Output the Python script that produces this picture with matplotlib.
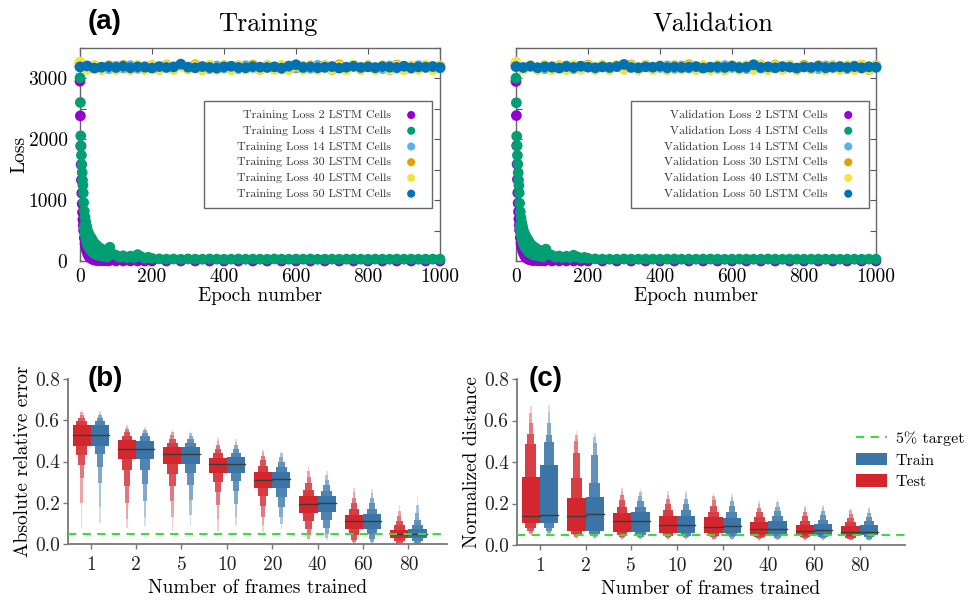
import numpy as np
import matplotlib
matplotlib.use("Agg")
import matplotlib.pyplot as plt
from matplotlib.lines import Line2D
from matplotlib.patches import Patch
import matplotlib.colors as mcolors

plt.rcParams['font.family'] = ['cmr10', 'DejaVu Serif']
plt.rcParams['axes.unicode_minus'] = False
plt.rcParams['mathtext.fontset'] = 'cm'
plt.rcParams['xtick.labelsize'] = 14
plt.rcParams['ytick.labelsize'] = 14

# ---------------- panel (a) data ----------------
cells = [2, 4, 14, 30, 40, 50]
cell_colors = ['#9400d3', '#009e73', '#56b4e9', '#e69f00', '#f0e442', '#0072b2']

plateau_epochs = list(range(0, 1001, 20))

tr_ep_2 = [0, 1, 2, 3, 4, 5, 6, 7, 8, 9, 10, 12, 14, 16, 18, 20, 23, 26, 30, 35, 40, 45, 50, 60, 70, 80,
           100, 120, 140, 160, 180, 200, 240, 280, 320, 360, 400, 440, 480, 520, 560, 600, 640, 680,
           720, 760, 800, 840, 880, 920, 960, 1000]
tr_loss_2 = [2955, 2385, 1890, 1585, 1330, 1115, 940, 800, 680, 585, 500, 380, 290, 225, 175, 135, 95, 65,
             42, 26, 16, 10, 7, 4, 3, 2, 1, 1, 1, 0, 0, 0, 0, 0, 0, 0, 0, 0, 0, 0, 0, 0, 0, 0, 0, 0, 0, 0,
             0, 0, 0, 0]
tr_ep_4 = [0, 1, 2, 3, 4, 5, 6, 7, 8, 9, 10, 11, 12, 13, 14, 15, 16, 17, 18, 19, 20,
           22, 24, 26, 28, 30, 32, 34, 36, 38, 40, 43, 46, 50, 54, 58, 62, 66, 70, 75, 83, 90,
           100, 110, 120, 130, 140, 150, 160, 170, 180, 190, 200,
           220, 240, 260, 280, 300, 320, 340, 360, 380, 400, 420, 440, 460, 480, 500, 520, 540, 560,
           580, 600, 620, 640, 660, 680, 700, 720, 740, 760, 780, 800, 820, 840, 860, 880, 900, 920,
           940, 960, 980, 1000]
tr_loss_4 = [3010, 2605, 2056, 1890, 1738, 1586, 1454, 1327, 1245, 1118, 960, 560, 820, 480, 720, 410, 640,
             350, 580, 300, 520, 250, 460, 210, 410, 180, 370, 150, 330, 130, 290, 110, 260, 95, 220, 85,
             190, 75, 160, 65, 225, 120, 95, 60, 85, 55, 80, 50, 105, 70, 45, 60, 42,
             35, 30, 32, 28, 34, 30, 29, 33, 31, 28, 30, 32, 29, 31, 30, 28, 33, 30, 29, 31, 30, 32, 28,
             30, 31, 29, 30, 32, 30, 28, 31, 30, 29, 32, 30, 31, 29, 30, 31, 30]
tr_loss_14 = [3195, 3165, 3205, 3175, 3160, 3200, 3170, 3210, 3165, 3195,
              3205, 3160, 3195, 3170, 3215, 3165, 3200, 3180, 3160, 3205,
              3170, 3195, 3160, 3210, 3180, 3165, 3200, 3185, 3160, 3205,
              3170, 3195, 3165, 3215, 3180, 3160, 3200, 3170, 3205, 3165,
              3195, 3180, 3160, 3205, 3170, 3200, 3165, 3210, 3180, 3195, 3170]
tr_loss_30 = [3250, 3155, 3205, 3150, 3210, 3160, 3215, 3150, 3200, 3160,
              3210, 3150, 3220, 3155, 3205, 3160, 3225, 3145, 3200, 3155,
              3210, 3150, 3205, 3160, 3220, 3145, 3210, 3155, 3200, 3150,
              3220, 3155, 3205, 3160, 3210, 3145, 3225, 3155, 3200, 3150,
              3210, 3160, 3205, 3145, 3220, 3155, 3200, 3160, 3210, 3150, 3205]
tr_loss_40 = [3270, 3150, 3210, 3150, 3205, 3145, 3205, 3150, 3215, 3145,
              3205, 3150, 3210, 3145, 3210, 3150, 3205, 3145, 3220, 3150,
              3205, 3140, 3210, 3150, 3205, 3145, 3205, 3150, 3215, 3145,
              3205, 3150, 3210, 3145, 3205, 3150, 3205, 3140, 3220, 3150,
              3205, 3145, 3210, 3150, 3205, 3140, 3205, 3150, 3215, 3145, 3205]
tr_loss_50 = [3190, 3205, 3170, 3185, 3195, 3180, 3200, 3175, 3190, 3185,
              3170, 3195, 3180, 3190, 3235, 3185, 3175, 3195, 3180, 3170,
              3190, 3200, 3180, 3175, 3195, 3185, 3180, 3190, 3170, 3200,
              3225, 3180, 3190, 3175, 3185, 3195, 3170, 3185, 3200, 3180,
              3190, 3175, 3195, 3185, 3180, 3200, 3175, 3190, 3185, 3195, 3180]

va_ep_2 = tr_ep_2
va_loss_2 = [2950, 2390, 1895, 1590, 1340, 1120, 950, 810, 690, 590, 505, 385, 295, 230, 178, 138, 97, 66,
             43, 27, 17, 11, 7, 4, 3, 2, 1, 1, 1, 0, 0, 0, 0, 0, 0, 0, 0, 0, 0, 0, 0, 0, 0, 0, 0, 0, 0, 0,
             0, 0, 0, 0]
va_ep_4 = tr_ep_4
va_loss_4 = [3005, 2600, 2050, 1895, 1735, 1590, 1450, 1330, 1240, 1120, 950, 570, 810, 490, 710, 420, 630,
             360, 570, 310, 510, 260, 450, 220, 400, 185, 360, 155, 320, 135, 280, 115, 250, 98, 215, 88,
             185, 78, 155, 68, 195, 115, 92, 62, 82, 56, 78, 52, 95, 68, 47, 58, 44,
             34, 31, 30, 29, 33, 31, 30, 32, 30, 29, 31, 33, 30, 30, 29, 31, 32, 30, 28, 30, 31, 31, 29,
             30, 32, 30, 29, 31, 30, 29, 30, 31, 30, 31, 29, 30, 30, 29, 31, 30]
va_loss_14 = [3205, 3170, 3210, 3175, 3160, 3195, 3180, 3205, 3160, 3200,
              3210, 3165, 3190, 3180, 3205, 3160, 3200, 3170, 3215, 3165,
              3180, 3205, 3165, 3205, 3170, 3160, 3200, 3180, 3165, 3210,
              3180, 3190, 3160, 3205, 3170, 3165, 3200, 3180, 3215, 3160,
              3190, 3170, 3160, 3205, 3180, 3200, 3160, 3205, 3170, 3190, 3180]
va_loss_30 = [3245, 3160, 3205, 3155, 3210, 3155, 3210, 3150, 3205, 3160,
              3220, 3150, 3210, 3160, 3200, 3155, 3220, 3150, 3205, 3160,
              3205, 3145, 3210, 3160, 3225, 3150, 3205, 3155, 3205, 3145,
              3210, 3160, 3200, 3155, 3220, 3150, 3220, 3155, 3205, 3145,
              3220, 3160, 3210, 3150, 3210, 3160, 3205, 3155, 3220, 3145, 3210]
va_loss_40 = [3265, 3150, 3210, 3145, 3215, 3145, 3205, 3150, 3215, 3150,
              3205, 3150, 3210, 3145, 3215, 3150, 3205, 3150, 3215, 3145,
              3205, 3145, 3210, 3150, 3205, 3150, 3210, 3145, 3215, 3150,
              3205, 3145, 3210, 3150, 3215, 3145, 3205, 3150, 3215, 3145,
              3205, 3150, 3210, 3145, 3205, 3145, 3210, 3150, 3215, 3150, 3205]
va_loss_50 = [3195, 3180, 3200, 3175, 3190, 3185, 3170, 3195, 3180, 3200,
              3185, 3175, 3190, 3180, 3195, 3230, 3180, 3175, 3190, 3185,
              3200, 3175, 3190, 3180, 3185, 3195, 3170, 3185, 3190, 3180,
              3200, 3175, 3185, 3225, 3180, 3190, 3175, 3195, 3185, 3170,
              3190, 3180, 3200, 3175, 3185, 3190, 3180, 3195, 3175, 3190, 3185]

# ---------------- panels (b), (c) data (letter-value boxes) ----------------
frames = ['1', '2', '5', '10', '20', '40', '60', '80']

# each row: one category; columns: levels 1..6 (inner -> outer)
b_test_med = [0.530, 0.463, 0.435, 0.388, 0.312, 0.196, 0.110, 0.050]
b_test_lo = [[0.475, 0.432, 0.385, 0.320, 0.200, 0.080],
             [0.414, 0.358, 0.282, 0.200, 0.120, 0.078],
             [0.388, 0.338, 0.280, 0.210, 0.130, 0.065],
             [0.345, 0.300, 0.250, 0.190, 0.120, 0.065],
             [0.270, 0.231, 0.182, 0.133, 0.090, 0.060],
             [0.152, 0.111, 0.075, 0.043, 0.025, 0.018],
             [0.072, 0.044, 0.020, 0.008, 0.003, 0.001],
             [0.030, 0.015, 0.006, 0.002, 0.001, 0.000]]
b_test_hi = [[0.575, 0.595, 0.610, 0.625, 0.638, 0.650],
             [0.505, 0.526, 0.545, 0.558, 0.568, 0.575],
             [0.469, 0.490, 0.510, 0.528, 0.542, 0.555],
             [0.418, 0.440, 0.460, 0.478, 0.498, 0.515],
             [0.347, 0.376, 0.405, 0.425, 0.445, 0.456],
             [0.233, 0.262, 0.295, 0.325, 0.355, 0.380],
             [0.141, 0.170, 0.200, 0.225, 0.250, 0.272],
             [0.070, 0.092, 0.112, 0.135, 0.160, 0.190]]
b_train_med = [0.528, 0.462, 0.434, 0.390, 0.314, 0.197, 0.112, 0.048]
b_train_lo = [[0.474, 0.435, 0.375, 0.296, 0.180, 0.100],
              [0.410, 0.360, 0.290, 0.210, 0.130, 0.085],
              [0.390, 0.342, 0.285, 0.215, 0.140, 0.085],
              [0.342, 0.305, 0.255, 0.195, 0.130, 0.085],
              [0.272, 0.228, 0.180, 0.130, 0.095, 0.075],
              [0.155, 0.118, 0.080, 0.048, 0.030, 0.020],
              [0.075, 0.048, 0.025, 0.012, 0.005, 0.002],
              [0.028, 0.014, 0.006, 0.002, 0.001, 0.000]]
b_train_hi = [[0.577, 0.597, 0.612, 0.625, 0.636, 0.645],
              [0.500, 0.522, 0.540, 0.552, 0.560, 0.565],
              [0.471, 0.492, 0.510, 0.525, 0.538, 0.548],
              [0.422, 0.442, 0.462, 0.478, 0.495, 0.510],
              [0.350, 0.375, 0.400, 0.420, 0.440, 0.452],
              [0.232, 0.258, 0.285, 0.310, 0.335, 0.355],
              [0.146, 0.172, 0.200, 0.225, 0.248, 0.268],
              [0.072, 0.094, 0.118, 0.148, 0.190, 0.230]]

c_test_med = [0.141, 0.140, 0.118, 0.095, 0.088, 0.076, 0.069, 0.064]
c_test_lo = [[0.104, 0.080, 0.066, 0.058, 0.054, 0.050],
             [0.069, 0.055, 0.046, 0.040, 0.035, 0.030],
             [0.062, 0.048, 0.040, 0.034, 0.029, 0.025],
             [0.058, 0.045, 0.038, 0.032, 0.028, 0.024],
             [0.056, 0.044, 0.037, 0.031, 0.027, 0.023],
             [0.050, 0.040, 0.034, 0.029, 0.025, 0.021],
             [0.047, 0.038, 0.032, 0.027, 0.023, 0.020],
             [0.045, 0.036, 0.030, 0.026, 0.022, 0.019]]
c_test_hi = [[0.329, 0.487, 0.535, 0.590, 0.635, 0.672],
             [0.226, 0.321, 0.445, 0.500, 0.530, 0.550],
             [0.155, 0.185, 0.215, 0.240, 0.260, 0.275],
             [0.140, 0.168, 0.198, 0.222, 0.242, 0.258],
             [0.135, 0.160, 0.190, 0.215, 0.238, 0.252],
             [0.112, 0.135, 0.158, 0.180, 0.198, 0.212],
             [0.098, 0.118, 0.138, 0.158, 0.176, 0.190],
             [0.092, 0.110, 0.130, 0.150, 0.168, 0.180]]
c_train_med = [0.145, 0.147, 0.118, 0.097, 0.090, 0.078, 0.070, 0.065]
c_train_lo = [[0.104, 0.080, 0.066, 0.058, 0.054, 0.050],
              [0.069, 0.055, 0.046, 0.040, 0.035, 0.030],
              [0.062, 0.048, 0.040, 0.034, 0.029, 0.025],
              [0.058, 0.045, 0.038, 0.032, 0.028, 0.024],
              [0.056, 0.044, 0.037, 0.031, 0.027, 0.023],
              [0.052, 0.041, 0.035, 0.030, 0.026, 0.022],
              [0.048, 0.039, 0.033, 0.028, 0.024, 0.021],
              [0.046, 0.037, 0.031, 0.026, 0.023, 0.020]]
c_train_hi = [[0.384, 0.494, 0.530, 0.590, 0.640, 0.675],
              [0.230, 0.297, 0.434, 0.490, 0.520, 0.540],
              [0.158, 0.185, 0.210, 0.235, 0.255, 0.270],
              [0.142, 0.170, 0.198, 0.222, 0.245, 0.260],
              [0.132, 0.160, 0.188, 0.212, 0.232, 0.245],
              [0.115, 0.138, 0.162, 0.185, 0.205, 0.220],
              [0.100, 0.122, 0.145, 0.165, 0.182, 0.195],
              [0.095, 0.115, 0.135, 0.155, 0.172, 0.185]]

target = 0.05
level_widths = [1.0, 0.58, 0.36, 0.22, 0.14, 0.09]
level_shades = [1.0, 0.9, 0.8, 0.62, 0.42, 0.22]
test_color = '#d3272d'
train_color = '#3b75a8'
green = '#3ddc3d'

fig = plt.figure(figsize=(9.68, 6.0), dpi=100)
W, H = 968.0, 600.0


def px_axes(l, t, r, b):
    return fig.add_axes([l / W, 1 - b / H, (r - l) / W, (b - t) / H])


def loss_panel(ax, prefix, series, leg_right):
    for (ep, vals), n, col in zip(series, cells, cell_colors):
        ax.scatter(ep, vals, s=60, color=col, edgecolors='none', clip_on=False,
                   label='      ' + f'{prefix} Loss {n} LSTM Cells', zorder=3)
    ax.set_xlim(0, 1000)
    ax.set_ylim(0, 3500)
    ax.set_xticks(range(0, 1001, 200))
    ax.set_yticks([0, 1000, 2000, 3000])
    ax.set_yticks([500, 1500, 2500, 3500], minor=True)
    ax.tick_params(direction='in', top=True, right=True, length=4, width=0.8,
                   labelsize=14, color='#555555', which='both')
    ax.tick_params(axis='x', pad=5)
    ax.tick_params(axis='y', pad=9)
    for s in ax.spines.values():
        s.set_color('#666666')
        s.set_linewidth(1.0)
    ax.set_xlabel('Epoch number', fontsize=14, labelpad=1)
    leg = ax.legend(loc='upper right', bbox_to_anchor=(leg_right, 0.752), borderaxespad=0,
                    markerfirst=False, fontsize=8.6, frameon=True, fancybox=False,
                    edgecolor='#666666', framealpha=1, labelspacing=0.45, handletextpad=0.7,
                    borderpad=0.75, scatterpoints=1, markerscale=0.75)
    leg.get_frame().set_linewidth(1.0)
    for t in leg.get_texts():
        t.set_color('#333333')
    return leg


ax1 = px_axes(80, 48, 440, 261)
loss_panel(ax1, 'Training', [(tr_ep_2, tr_loss_2), (tr_ep_4, tr_loss_4),
                             (plateau_epochs, tr_loss_14), (plateau_epochs, tr_loss_30),
                             (plateau_epochs, tr_loss_40), (plateau_epochs, tr_loss_50)], 0.978)
ax1.set_ylabel('Loss', fontsize=14, labelpad=0)
ax1.set_title('Training', fontsize=19, pad=12, x=0.522)

ax2 = px_axes(516, 48, 876, 261)
loss_panel(ax2, 'Validation', [(va_ep_2, va_loss_2), (va_ep_4, va_loss_4),
                               (plateau_epochs, va_loss_14), (plateau_epochs, va_loss_30),
                               (plateau_epochs, va_loss_40), (plateau_epochs, va_loss_50)], 0.981)
ax2.set_yticklabels([])
ax2.set_title('Validation', fontsize=19, pad=12, x=0.547)


def shade(color, f):
    rgb = np.array(mcolors.to_rgb(color))
    return tuple(rgb * f + (1 - f) * np.ones(3))


def boxen(ax, med, lo, hi, color, offset):
    for c in range(len(frames)):
        x = c + offset
        for k in reversed(range(len(level_widths))):
            ax.bar(x, hi[c][k] - lo[c][k], bottom=lo[c][k], width=0.4 * level_widths[k],
                   color=shade(color, level_shades[k]), linewidth=0, zorder=2)
        ax.plot([x - 0.2, x + 0.2], [med[c], med[c]], color='#3c3c3c', lw=1.0, zorder=3)


def dist_panel(ax, ylabel, test, train, xmax):
    boxen(ax, *test, test_color, -0.2)
    boxen(ax, *train, train_color, 0.2)
    ax.axhline(target, color=green, lw=1.5, ls=(0, (4, 3)), zorder=4)
    ax.set_xlim(-0.5, xmax)
    ax.set_ylim(0, 0.8)
    ax.set_yticks([0.0, 0.2, 0.4, 0.6, 0.8])
    ax.set_xticks(range(len(frames)))
    ax.set_xticklabels(frames)
    for s in ['top', 'right']:
        ax.spines[s].set_visible(False)
    for s in ['left', 'bottom']:
        ax.spines[s].set_color('#777777')
        ax.spines[s].set_linewidth(1.3)
    ax.tick_params(direction='out', length=3.5, width=1.0, color='#777777', labelsize=14,
                   labelcolor='#222222')
    ax.tick_params(axis='y', pad=2.5)
    ax.tick_params(axis='x', pad=5)
    ax.set_xlabel('Number of frames trained', fontsize=14, labelpad=4)
    ax.set_ylabel(ylabel, fontsize=14, labelpad=2)


ax3 = px_axes(68, 379, 447, 544)
dist_panel(ax3, 'Absolute relative error', (b_test_med, b_test_lo, b_test_hi),
           (b_train_med, b_train_lo, b_train_hi), 7.85)

ax4 = px_axes(517, 379, 905, 545)
dist_panel(ax4, 'Normalized distance', (c_test_med, c_test_lo, c_test_hi),
           (c_train_med, c_train_lo, c_train_hi), 7.99)

handles = [Line2D([0], [0], color=green, lw=1.5, ls=(0, (4, 3))),
           Patch(facecolor=train_color, edgecolor='none'),
           Patch(facecolor=test_color, edgecolor='none')]
fig.legend(handles, ['5% target', 'Train', 'Test'], loc='upper left',
           bbox_to_anchor=(856 / W, 1 - 431 / H), frameon=False, fontsize=11.5,
           handlelength=1.95, handleheight=0.85, labelspacing=0.42, handletextpad=0.55,
           borderaxespad=0, borderpad=0)

lab = dict(fontsize=20, fontweight='bold', family=['Liberation Sans', 'DejaVu Sans'],
           ha='center', va='center')
fig.text(105 / W, 1 - 22 / H, '(a)', **lab)
fig.text(105 / W, 1 - 379 / H, '(b)', **lab)
fig.text(546 / W, 1 - 379 / H, '(c)', **lab)

fig.savefig('out.png', dpi=100)
